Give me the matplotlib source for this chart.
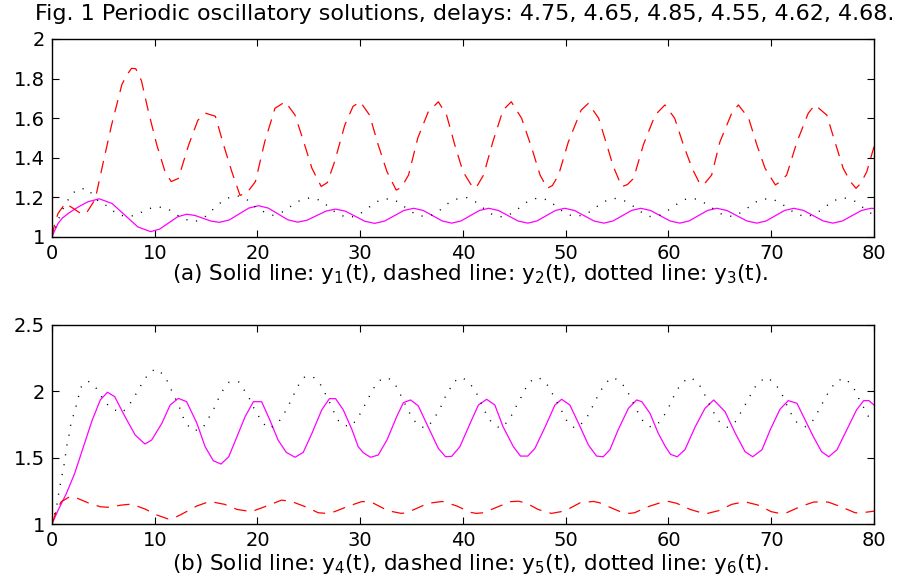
import matplotlib
matplotlib.use("Agg")
import matplotlib.pyplot as plt
from matplotlib.ticker import FormatStrFormatter

# ---- data (t, value) ----
# panel (a)
t1 = [0, 0.2, 0.6, 1.0, 1.6, 2.6, 3.5, 4.6, 5.85, 7.1, 8.35, 9.6,
      10.48, 11.35, 12.23, 13.1, 13.9, 14.7, 15.5, 16.3, 17.25, 18.2, 19.15, 20.1,
      21.05, 22.0, 22.95, 23.9, 24.83, 25.75, 26.68, 27.6, 28.55, 29.5, 30.45, 31.4,
      32.35, 33.3, 34.25, 35.2, 36.13, 37.05, 37.98, 38.9, 39.8, 40.7, 41.6, 42.5,
      43.45, 44.4, 45.35, 46.3, 47.2, 48.1, 49.0, 49.9, 50.85, 51.8, 52.75, 53.7,
      54.6, 55.5, 56.4, 57.3, 58.25, 59.2, 60.15, 61.1, 62.0, 62.9, 63.8, 64.7,
      65.68, 66.65, 67.63, 68.6, 69.5, 70.4, 71.3, 72.2, 73.15, 74.1, 75.05, 76.0,
      76.93, 77.85, 78.78, 79.7, 80]
y1 = [1.0, 1.025, 1.069, 1.095, 1.12, 1.153, 1.178, 1.193, 1.169, 1.110, 1.051, 1.027,
      1.040, 1.071, 1.102, 1.115, 1.109, 1.0945, 1.080, 1.074, 1.086, 1.116, 1.146, 1.158,
      1.146, 1.1165, 1.087, 1.075, 1.085, 1.108, 1.131, 1.141, 1.1305, 1.105, 1.0795, 1.069,
      1.080, 1.107, 1.134, 1.145, 1.134, 1.1075, 1.081, 1.07, 1.081, 1.1075, 1.134, 1.145,
      1.134, 1.1075, 1.081, 1.07, 1.081, 1.1075, 1.134, 1.145, 1.134, 1.1075, 1.081, 1.07,
      1.081, 1.1075, 1.134, 1.145, 1.134, 1.1075, 1.081, 1.07, 1.081, 1.1075, 1.134, 1.145,
      1.134, 1.1075, 1.081, 1.07, 1.081, 1.1075, 1.134, 1.145, 1.134, 1.1075, 1.081, 1.07,
      1.081, 1.1075, 1.134, 1.145, 1.144]

t2 = [0, 0.3, 0.6, 1.3, 2.2, 2.9, 3.4, 4.2, 5.0, 5.8, 6.8, 7.3, 7.75, 8.15, 8.7, 9.4,
      10.2, 11.0, 11.6, 12.3, 13.3, 14.2, 14.95, 15.9, 16.7, 17.5, 18.3, 19.0, 19.8, 20.7,
      21.7, 22.7, 23.65, 24.5, 25.3, 26.2, 26.8, 27.5, 28.5, 29.3, 30.0, 30.9, 31.75, 32.6,
      33.5, 34.0, 34.7, 35.6, 36.6, 37.6, 38.4, 39.2, 40.0, 41.0, 41.4, 42.0, 42.9, 43.9,
      44.7, 45.7, 46.7, 47.5, 48.2, 48.7, 49.3, 50.25, 51.5, 52.2, 53.2, 54.0, 54.6, 55.45,
      56.0, 56.6, 57.55, 58.7, 59.65, 60.6, 61.45, 62.3, 63.1, 63.6, 64.2, 65.0, 66.15, 66.8,
      67.8, 68.6, 69.4, 70.4, 70.9, 71.5, 72.5, 73.6, 74.25, 75.4, 76.2, 77.0, 77.7, 78.25,
      78.7, 79.3, 80.0]
y2 = [1.0, 1.076, 1.12, 1.17, 1.14, 1.115, 1.125, 1.19, 1.38, 1.566, 1.77, 1.82, 1.852, 1.85, 1.79, 1.63,
      1.465, 1.33, 1.28, 1.296, 1.465, 1.59, 1.625, 1.61, 1.465, 1.33, 1.21, 1.225, 1.28, 1.48,
      1.65, 1.683, 1.616, 1.48, 1.347, 1.255, 1.275, 1.38, 1.566, 1.66, 1.683, 1.616, 1.465, 1.33,
      1.237, 1.25, 1.313, 1.5, 1.63, 1.683, 1.616, 1.465, 1.33, 1.246, 1.26, 1.313, 1.48, 1.641,
      1.683, 1.6, 1.448, 1.313, 1.246, 1.26, 1.313, 1.48, 1.641, 1.675, 1.6, 1.465, 1.36, 1.254,
      1.265, 1.296, 1.465, 1.616, 1.667, 1.6, 1.465, 1.347, 1.263, 1.275, 1.313, 1.48, 1.625, 1.667,
      1.6, 1.465, 1.347, 1.263, 1.28, 1.313, 1.48, 1.625, 1.667, 1.616, 1.48, 1.347, 1.28, 1.246,
      1.27, 1.33, 1.456]

t3 = [0, 0.6, 1.1, 1.75, 2.4, 3.4, 4.7, 5.5, 6.3, 7.3, 8.2, 9.2, 10.2, 11.2, 12.0, 12.9,
      13.9, 14.8, 15.5, 16.2, 17.0, 18.0, 18.95, 19.75, 20.6, 21.5, 22.5, 23.3, 24.2, 25.2,
      26.2, 26.9, 27.7, 28.7, 29.65, 30.5, 31.3, 32.1, 33.2, 34.0, 34.8, 35.7, 36.8, 37.7,
      38.4, 39.2, 40.4, 41.3, 42.1, 42.95, 43.9, 44.8, 45.6, 46.4, 47.4, 48.4, 49.2, 50.1,
      50.95, 52.0, 52.8, 53.65, 54.6, 55.5, 56.4, 57.2, 58.1, 59.2, 60.0, 60.85, 61.7, 62.7,
      63.65, 64.5, 65.3, 66.3, 67.2, 68.0, 68.8, 69.9, 70.85, 71.7, 72.5, 73.45, 74.4, 75.2,
      76.0, 77.0, 78.05, 78.9, 79.7, 80]
y3 = [1.0, 1.086, 1.145, 1.204, 1.24, 1.246, 1.17, 1.155, 1.115, 1.103, 1.11, 1.14, 1.153, 1.145, 1.116, 1.09,
      1.077, 1.098, 1.131, 1.165, 1.195, 1.209, 1.19, 1.153, 1.128, 1.11, 1.128, 1.157, 1.187, 1.199,
      1.184, 1.153, 1.12, 1.098, 1.106, 1.136, 1.168, 1.192, 1.192, 1.165, 1.133, 1.106, 1.106, 1.133,
      1.165, 1.19, 1.199, 1.175, 1.141, 1.11, 1.101, 1.12, 1.152, 1.184, 1.199, 1.184, 1.148, 1.115,
      1.103, 1.115, 1.145, 1.177, 1.196, 1.189, 1.162, 1.131, 1.103, 1.111, 1.136, 1.167, 1.192, 1.192,
      1.168, 1.138, 1.111, 1.103, 1.128, 1.158, 1.187, 1.195, 1.175, 1.141, 1.115, 1.101, 1.12, 1.15,
      1.182, 1.199, 1.184, 1.15, 1.12, 1.112]

# panel (b)
t4 = [0, 0.6, 1.4, 2.2, 3.05, 3.9, 4.7, 5.4, 6.1, 7.1, 8.1, 9.05, 9.7, 10.7, 11.5, 12.3,
      13.1, 14.1, 14.9, 15.7, 16.45, 17.2, 18.0, 18.8, 19.6, 20.4, 21.2, 22.0, 22.8, 23.65,
      24.45, 25.3, 26.25, 27.0, 27.6, 28.35, 29.2, 29.8, 30.3, 31.0, 31.75, 32.6, 33.55, 34.2,
      34.9, 35.65, 36.6, 37.6, 38.3, 38.9, 39.7, 40.7, 41.5, 42.3, 43.1, 43.9, 44.9, 45.6,
      46.3, 47.0, 48.0, 48.95, 49.6, 50.4, 51.4, 52.2, 53.0, 53.65, 54.3, 55.1, 56.1, 56.9,
      57.4, 58.2, 59.0, 59.7, 60.2, 60.85, 61.6, 62.6, 63.55, 64.4, 65.5, 66.5, 67.45, 68.2,
      69.1, 69.9, 70.85, 71.65, 72.5, 73.3, 74.1, 74.9, 75.6, 76.4, 77.35, 78.3, 79.0, 79.5, 80.0]
y4 = [1.0, 1.105, 1.23, 1.38, 1.58, 1.78, 1.935, 1.993, 1.96, 1.81, 1.67, 1.603, 1.633, 1.76, 1.897, 1.947,
      1.922, 1.76, 1.583, 1.477, 1.452, 1.507, 1.658, 1.81, 1.922, 1.922, 1.784, 1.633, 1.54, 1.503,
      1.54, 1.684, 1.86, 1.945, 1.945, 1.86, 1.71, 1.583, 1.537, 1.503, 1.52, 1.633, 1.81, 1.915,
      1.935, 1.89, 1.733, 1.57, 1.507, 1.51, 1.583, 1.76, 1.897, 1.94, 1.897, 1.733, 1.583, 1.512,
      1.512, 1.57, 1.733, 1.897, 1.94, 1.897, 1.733, 1.596, 1.512, 1.507, 1.56, 1.71, 1.872, 1.935,
      1.922, 1.834, 1.684, 1.583, 1.525, 1.507, 1.56, 1.733, 1.872, 1.935, 1.847, 1.684, 1.545, 1.507,
      1.56, 1.71, 1.865, 1.93, 1.91, 1.784, 1.658, 1.545, 1.507, 1.56, 1.71, 1.86, 1.93, 1.93, 1.897]

t5 = [0, 0.45, 0.9, 1.6, 2.1, 3.5, 4.7, 5.45, 6.8, 7.75, 9.05, 10.2, 11.3, 11.8, 12.6, 14.1,
      15.2, 15.5, 16.8, 18.0, 19.4, 20.7, 22.35, 23.3, 24.8, 25.9, 26.7, 27.5, 28.7, 30.1,
      30.7, 31.3, 32.7, 34.0, 34.5, 35.5, 36.6, 38.0, 39.4, 40.7, 41.3, 42.0, 43.4, 44.6,
      45.4, 46.2, 47.3, 48.6, 49.9, 51.4, 52.7, 53.3, 54.0, 55.3, 56.2, 56.7, 58.0, 59.5,
      60.0, 60.8, 62.1, 63.4, 63.8, 64.85, 66.15, 67.4, 68.7, 70.0, 70.8, 71.5, 72.8, 74.1,
      75.0, 75.55, 76.85, 78.15, 78.6, 79.55, 80.0]
y5 = [1.0, 1.105, 1.168, 1.2, 1.206, 1.16, 1.13, 1.126, 1.143, 1.15, 1.113, 1.068, 1.038, 1.043, 1.073, 1.136,
      1.166, 1.168, 1.148, 1.11, 1.093, 1.13, 1.18, 1.17, 1.126, 1.085, 1.08, 1.093, 1.13, 1.168,
      1.17, 1.156, 1.1, 1.08, 1.085, 1.118, 1.156, 1.17, 1.136, 1.088, 1.08, 1.085, 1.13, 1.168,
      1.172, 1.156, 1.11, 1.08, 1.098, 1.16, 1.17, 1.16, 1.136, 1.093, 1.08, 1.085, 1.13, 1.168,
      1.17, 1.156, 1.11, 1.08, 1.08, 1.1, 1.148, 1.168, 1.143, 1.093, 1.08, 1.085, 1.13, 1.165,
      1.168, 1.165, 1.128, 1.085, 1.083, 1.092, 1.097]

t6 = [0, 0.45, 0.7, 0.95, 1.2, 1.43, 1.65, 1.9, 2.2, 2.4, 2.8, 3.5, 4.25, 4.77, 5.2, 5.9,
      6.85, 7.5, 8.0, 8.4, 8.9, 9.4, 10.1, 10.9, 11.3, 11.65, 12.4, 12.7, 13.1, 13.7, 14.6,
      15.1, 15.5, 15.9, 16.25, 16.7, 17.25, 18.2, 18.7, 19.2, 19.6, 20.0, 20.4, 21.1, 21.9,
      22.45, 22.85, 23.3, 23.65, 24.05, 24.6, 25.4, 26.1, 26.5, 26.9, 27.3, 27.6, 28.1, 29.0,
      29.65, 30.1, 30.5, 30.9, 31.3, 31.8, 32.7, 33.4, 33.8, 34.2, 34.6, 35.0, 35.5, 36.3,
      37.0, 37.45, 37.9, 38.25, 38.7, 39.1, 39.9, 40.6, 41.2, 41.55, 41.9, 42.3, 42.8, 43.6,
      44.35, 44.8, 45.2, 45.6, 46.0, 46.5, 47.3, 48.05, 48.5, 48.95, 49.4, 49.8, 50.15, 50.9,
      51.65, 52.2, 52.6, 53.0, 53.4, 53.9, 54.6, 55.4, 55.9, 56.35, 56.7, 57.1, 57.55, 58.3,
      59.1, 59.6, 60.05, 60.4, 60.8, 61.3, 62.1, 62.85, 63.3, 63.7, 64.1, 64.5, 64.95, 65.75,
      66.5, 66.95, 67.4, 67.8, 68.25, 68.7, 69.55, 70.3, 70.85, 71.25, 71.6, 72.0, 72.5, 73.35,
      74.1, 74.5, 74.9, 75.3, 75.8, 76.3, 77.2, 77.8, 78.3, 78.6, 79.1, 79.5, 80.0]
y6 = [1.0, 1.13, 1.256, 1.357, 1.457, 1.583, 1.67, 1.784, 1.84, 1.905, 2.03, 2.078, 2.03, 1.965, 1.915, 1.865,
      1.84, 1.897, 1.955, 2.015, 2.073, 2.136, 2.17, 2.123, 2.065, 2.005, 1.88, 1.814, 1.754, 1.703, 1.714,
      1.779, 1.834, 1.89, 1.955, 2.017, 2.07, 2.07, 2.01, 1.947, 1.88, 1.829, 1.771, 1.718, 1.754,
      1.81, 1.872, 1.935, 1.997, 2.055, 2.11, 2.11, 2.055, 1.997, 1.935, 1.872, 1.81, 1.754, 1.733,
      1.784, 1.847, 1.905, 1.965, 2.023, 2.08, 2.103, 2.053, 1.993, 1.93, 1.865, 1.81, 1.754, 1.721,
      1.771, 1.829, 1.892, 1.955, 2.015, 2.073, 2.106, 2.065, 2.005, 1.947, 1.89, 1.822, 1.764, 1.721,
      1.771, 1.829, 1.89, 1.947, 2.01, 2.073, 2.106, 2.068, 2.01, 1.947, 1.884, 1.822, 1.771, 1.721,
      1.764, 1.822, 1.884, 1.947, 2.005, 2.065, 2.106, 2.068, 2.01, 1.952, 1.89, 1.829, 1.771, 1.729,
      1.766, 1.822, 1.884, 1.945, 2.005, 2.065, 2.106, 2.068, 2.01, 1.947, 1.884, 1.826, 1.771, 1.729,
      1.771, 1.829, 1.89, 1.947, 2.01, 2.065, 2.106, 2.065, 2.005, 1.945, 1.88, 1.822, 1.764, 1.733,
      1.784, 1.84, 1.897, 1.96, 2.017, 2.078, 2.098, 2.048, 1.99, 1.93, 1.865, 1.804, 1.77]

title = "Fig. 1 Periodic oscillatory solutions, delays: 4.75, 4.65, 4.85, 4.55, 4.62, 4.68."
label_a = "(a) Solid line: y$_1$(t), dashed line: y$_2$(t), dotted line: y$_3$(t)."
label_b = "(b) Solid line: y$_4$(t), dashed line: y$_5$(t), dotted line: y$_6$(t)."
xticks = [0, 10, 20, 30, 40, 50, 60, 70, 80]
yticks_a = [1, 1.2, 1.4, 1.6, 1.8, 2]
yticks_b = [1, 1.5, 2, 2.5]

plt.rcParams['font.family'] = ['DejaVu Sans']
plt.rcParams['mathtext.fontset'] = 'dejavusans'
plt.rcParams['lines.scale_dashes'] = False

W, H = 903, 586
fig = plt.figure(figsize=(W / 100, H / 100), dpi=100)


def box(l, t, r, b):
    return [l / W, 1 - b / H, (r - l) / W, (b - t) / H]


ax1 = fig.add_axes(box(52, 39, 874, 237))
ax2 = fig.add_axes(box(52, 325, 874, 524))

solid = dict(color='#ff00ff', lw=0.9, ls='-')
dashed = dict(color='#ff0000', lw=0.9, ls=(0, (9, 6)))
dotted = dict(color='black', lw=1.0, ls=(0, (0.8, 6.4)))

ax1.plot(t1, y1, **solid)
ax1.plot(t2, y2, **dashed)
ax1.plot(t3, y3, **dotted)

ax2.plot(t4, y4, **solid)
ax2.plot(t5, y5, **dashed)
ax2.plot(t6, y6, **dotted)

for ax, yt, lo, hi in [(ax1, yticks_a, 1, 2), (ax2, yticks_b, 1, 2.5)]:
    ax.set_xlim(0, 80)
    ax.set_ylim(lo, hi)
    ax.set_xticks(xticks)
    ax.set_yticks(yt)
    ax.yaxis.set_major_formatter(FormatStrFormatter('%g'))
    ax.tick_params(direction='in', length=5, width=0.8, top=True, right=True,
                   labelsize=14, pad=5)
    for s in ax.spines.values():
        s.set_linewidth(1.0)

fig.text(465 / W, 1 - 14 / H, title, ha='center', va='center', fontsize=16)
fig.text(470 / W, 1 - 274 / H, label_a, ha='center', va='center', fontsize=15.5)
fig.text(470 / W, 1 - 564 / H, label_b, ha='center', va='center', fontsize=15.5)

fig.savefig('out.png', dpi=100)
